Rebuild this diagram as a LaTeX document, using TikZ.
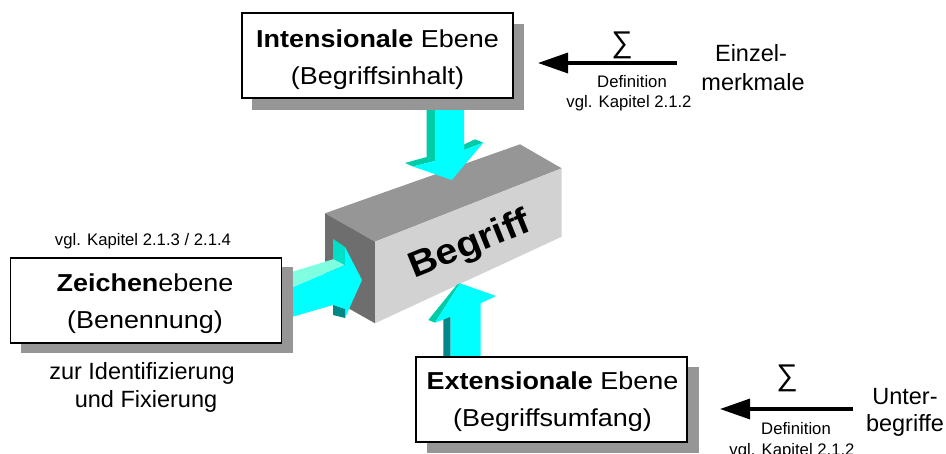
\documentclass[tikz,border=0pt]{standalone}
\usepackage{fontspec}
\setmainfont{Liberation Sans}
\newfontfamily\boxfont[FakeStretch=1.1]{Liberation Sans}
\usetikzlibrary{arrows.meta}
\definecolor{shadowgray}{RGB}{150,150,150}
\definecolor{blocktop}{RGB}{150,150,150}
\definecolor{blockfront}{RGB}{210,210,210}
\definecolor{blockleft}{RGB}{110,110,110}
\definecolor{cyanA}{RGB}{0,255,255}
\definecolor{tealA}{RGB}{0,204,168}
\definecolor{tealB}{RGB}{0,224,200}
\definecolor{darktealA}{RGB}{0,136,136}
\definecolor{mintA}{RGB}{128,255,224}
\begin{document}
\begin{tikzpicture}[x=1pt,y=-1pt,
  lvlbox/.style={draw=black, line width=1.5pt, fill=white, minimum width=271pt, minimum height=85pt, inner sep=0pt},
  shadowbox/.style={fill=shadowgray, draw=none, minimum width=272pt, minimum height=86pt, inner sep=0pt},
  boxtxt/.style={font=\boxfont\fontsize{24.5}{28}\selectfont, anchor=base, inner sep=0pt},
  sidetxt/.style={font=\fontsize{23.5}{26}\selectfont, anchor=base, inner sep=0pt},
  smalltxt/.style={font=\fontsize{16.7}{19}\selectfont, anchor=base, inner sep=0pt},
  sigmatxt/.style={font=\fontsize{30}{32}\selectfont, inner sep=0pt},
  defarrow/.style={line width=3.3pt, -{Triangle[length=30pt,width=20pt]}},
]
\useasboundingbox (0,0) rectangle (946,454);

% ---- 3D block "Begriff"
\fill[blocktop] (325,213.3) -- (520,144.3) -- (561.7,168.3) -- (375,241.7) -- cycle;
\fill[blockleft] (325,213.3) -- (375,241.7) -- (375,323.3) -- (325,295) -- cycle;
\fill[blockfront] (375,241.7) -- (561.7,168.3) -- (561.7,236.7) -- (375,323.3) -- cycle;
\node[font=\boxfont\bfseries\fontsize{36}{40}\selectfont, rotate=22, inner sep=0pt] (begriff) at (470,246) {Begriff};

% ---- top cyan arrow (pointing down)
\fill[tealA] (426.7,95) -- (435,95) -- (435,161) -- (413,166.5) -- (405,163) -- (426.7,157) -- cycle;
\fill[tealA] (464,144.5) -- (475,139.3) -- (483.3,142.7) -- (464,150) -- cycle;
\fill[cyanA] (435,95) -- (464,95) -- (464,150) -- (483.3,142.7) -- (451.7,180) -- (413,166.5) -- (435,161) -- cycle;

% ---- left cyan arrow (pointing right)
\fill[mintA] (290,272.5) -- (334,259) -- (345,265) -- (290,288.5) -- cycle;
\fill[cyanA] (290,288.5) -- (345,265) -- (345,247) -- (362,280) -- (345,318) -- (345,309) -- (333,305) -- (290,317.5) -- cycle;
\fill[tealB] (333,259) -- (333,239) -- (345,247) -- (345,265) -- cycle;
\fill[darktealA] (333,305) -- (345,309) -- (345,318) -- (333,315) -- cycle;

% ---- bottom cyan arrow (pointing up)
\fill[darktealA] (443.3,318.3) -- (450.7,316.7) -- (450.7,360) -- (443.3,360) -- cycle;
\fill[tealA] (428.3,320) -- (435,322.7) -- (460,283.3) -- (456.7,285) -- cycle;
\fill[cyanA] (450.7,360) -- (450.7,316.7) -- (435,322.7) -- (460,283.3) -- (496,296) -- (480.7,303.3) -- (480.7,360) -- cycle;

% ---- level boxes with shadows
\node[shadowbox] (intshadow) at (388,67) {};
\node[lvlbox] (intbox) at (377.5,55.5) {};
\node[boxtxt] (int1) at (377.5,47.3) {\textbf{Intensionale} Ebene};
\node[boxtxt] (int2) at (377.5,85) {(Begriffsinhalt)};

\node[shadowbox] (zeishadow) at (157,310.5) {};
\node[lvlbox] (zeibox) at (146,300.5) {};
\node[boxtxt] (zei1) at (145,291.7) {\textbf{Zeichen}ebene};
\node[boxtxt] (zei2) at (145,328.3) {(Benennung)};

\node[shadowbox] (extshadow) at (562.5,410.5) {};
\node[lvlbox] (extbox) at (551.5,399.5) {};
\node[boxtxt] (ext1) at (552.5,389.3) {\textbf{Extensionale} Ebene};
\node[boxtxt] (ext2) at (552.5,426.7) {(Begriffsumfang)};

% ---- left side texts
\node[smalltxt] (zeiref) at (143,246) {vgl. Kapitel 2.1.3 / 2.1.4};
\node[sidetxt] (zeiid1) at (142,380) {zur Identifizierung};
\node[sidetxt] (zeiid2) at (146,408) {und Fixierung};

% ---- top right: definition arrow
\coordinate (einzTail) at (677,63);
\coordinate (einzTip) at (538,63);
\draw[defarrow] (einzTail) -- (einzTip);
\node[sigmatxt] (sig1) at (622,45) {∑};
\node[smalltxt] (def1) at (632,87.3) {Definition};
\node[smalltxt] (ref1) at (629,107.3) {vgl. Kapitel 2.1.2};
\node[sidetxt] (einz1) at (751,61.7) {Einzel-};
\node[sidetxt] (einz2) at (753,90.7) {merkmale};

% ---- bottom right: definition arrow
\coordinate (untTail) at (853,409);
\coordinate (untTip) at (720,409);
\draw[defarrow] (untTail) -- (untTip);
\node[sigmatxt] (sig2) at (787,378) {∑};
\node[smalltxt] (def2) at (796,435) {Definition};
\node[smalltxt] (ref2) at (792,456) {vgl. Kapitel 2.1.2};
\node[sidetxt] (unt1) at (905,405) {Unter-};
\node[sidetxt] (unt2) at (905,431.5) {begriffe};
\end{tikzpicture}
\end{document}
